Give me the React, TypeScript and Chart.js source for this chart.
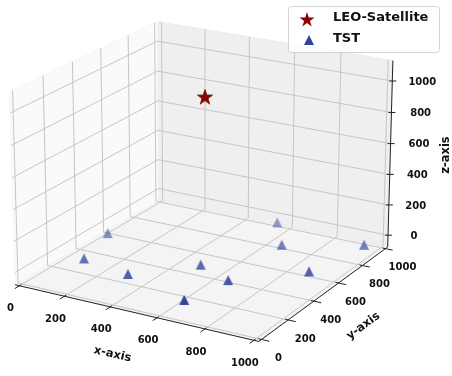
import React, { useEffect, useRef } from "react";
import { Chart, registerables } from "chart.js";

Chart.register(...registerables);

// ---------------- data ----------------
const satelliteLabel = "LEO-Satellite";
const satelliteX = [500];
const satelliteY = [500];
const satelliteZ = [1000];

const tstLabel = "TST";
const tstX = [66, 128, 353, 542, 706, 660, 582, 710, 926, 984];
const tstY = [495, 228, 180, 395, 315, 72, 926, 726, 540, 884];
const tstZ = [0, 0, 0, 0, 0, 0, 0, 0, 0, 0];

const xTickValues = [0, 200, 400, 600, 800, 1000];
const yTickValues = [0, 200, 400, 600, 800, 1000];
const zTickValues = [0, 200, 400, 600, 800, 1000];
const xTitle = "x-axis";
const yTitle = "y-axis";
const zTitle = "z-axis";

// ---------------- view (3D camera) ----------------
const W = 452;
const H = 376;
const ELEV = 20;
const AZIM = -60;
const DIST = 10;
const SCALE = 2420;
const CX = 205;
const CY = 172;
const XB = [-20, 1020];
const YB = [-20, 1020];
const ZB = [-78, 1130];
const BOX_Z_FACTOR = 0.973;

const boxNorm = Math.hypot(4, 4, 3);
const BOX = [4, 4, 3 * BOX_Z_FACTOR].map((v, i) => (i < 3 ? (v * 1.8294640721620434) / boxNorm : v));
const er = (ELEV * Math.PI) / 180;
const ar = (AZIM * Math.PI) / 180;
const Wv = [Math.cos(er) * Math.cos(ar), Math.cos(er) * Math.sin(ar), Math.sin(er)];
const Uv = [-Math.sin(ar), Math.cos(ar), 0];
const Vv = [-Math.sin(er) * Math.cos(ar), -Math.sin(er) * Math.sin(ar), Math.cos(er)];
const dot = (a: number[], b: number[]) => a[0] * b[0] + a[1] * b[1] + a[2] * b[2];

function proj(x: number, y: number, z: number) {
  const p = [
    ((x - XB[0]) / (XB[1] - XB[0]) - 0.5) * BOX[0],
    ((y - YB[0]) / (YB[1] - YB[0]) - 0.5) * BOX[1],
    ((z - ZB[0]) / (ZB[1] - ZB[0]) - 0.5) * BOX[2],
  ];
  const d = DIST - dot(Wv, p);
  return { x: dot(Uv, p) / d, y: dot(Vv, p) / d, depth: d };
}

const FONT = '"DejaVu Sans", sans-serif';

function starPath(ctx: CanvasRenderingContext2D, cx: number, cy: number, R: number) {
  const r = R * 0.382;
  ctx.beginPath();
  for (let i = 0; i < 10; i++) {
    const ang = -Math.PI / 2 + (i * Math.PI) / 5;
    const rad = i % 2 === 0 ? R : r;
    const px = cx + rad * Math.cos(ang);
    const py = cy + rad * Math.sin(ang);
    if (i === 0) ctx.moveTo(px, py);
    else ctx.lineTo(px, py);
  }
  ctx.closePath();
}

function makeStar(R: number, fill: string, stroke: string) {
  const c = document.createElement("canvas");
  const s = Math.ceil(R * 2 + 4);
  c.width = s;
  c.height = s;
  const ctx = c.getContext("2d")!;
  starPath(ctx, s / 2, s / 2 + R * 0.1, R);
  ctx.fillStyle = fill;
  ctx.fill();
  ctx.strokeStyle = stroke;
  ctx.lineWidth = 0.8;
  ctx.stroke();
  return c;
}

function triPath(ctx: CanvasRenderingContext2D, cx: number, cy: number, h: number) {
  ctx.beginPath();
  ctx.moveTo(cx, cy - h);
  ctx.lineTo(cx - h, cy + h);
  ctx.lineTo(cx + h, cy + h);
  ctx.closePath();
}

function makeTri(h: number, fill: string) {
  const c = document.createElement("canvas");
  const s = Math.ceil(h * 2 + 2);
  c.width = s;
  c.height = s;
  const ctx = c.getContext("2d")!;
  triPath(ctx, s / 2, s / 2, h);
  ctx.fillStyle = fill;
  ctx.fill();
  return c;
}

const TRI_RGB = [48, 66, 160];

const scene3dPlugin = {
  id: "scene3d",
  beforeDatasetsDraw(chart: any) {
    const ctx: CanvasRenderingContext2D = chart.ctx;
    const sx = chart.scales.x;
    const sy = chart.scales.y;
    const P = (x: number, y: number, z: number) => {
      const q = proj(x, y, z);
      return [sx.getPixelForValue(q.x), sy.getPixelForValue(q.y)];
    };
    const poly = (pts: number[][], fill: string, stroke: string) => {
      ctx.beginPath();
      pts.forEach((p, i) => (i ? ctx.lineTo(p[0], p[1]) : ctx.moveTo(p[0], p[1])));
      ctx.closePath();
      ctx.fillStyle = fill;
      ctx.fill();
      ctx.strokeStyle = stroke;
      ctx.lineWidth = 0.8;
      ctx.stroke();
    };
    const line = (a: number[], b: number[], color: string, lw: number) => {
      ctx.beginPath();
      ctx.moveTo(a[0], a[1]);
      ctx.lineTo(b[0], b[1]);
      ctx.strokeStyle = color;
      ctx.lineWidth = lw;
      ctx.stroke();
    };
    ctx.save();
    const [x0, x1] = XB;
    const [y0, y1] = YB;
    const [z0, z1] = ZB;
    // panes
    poly([P(x0, y0, z0), P(x1, y0, z0), P(x1, y1, z0), P(x0, y1, z0)], "#f4f4f4", "#ececec");
    poly([P(x0, y1, z0), P(x1, y1, z0), P(x1, y1, z1), P(x0, y1, z1)], "#efefef", "#ececec");
    poly([P(x0, y0, z0), P(x0, y1, z0), P(x0, y1, z1), P(x0, y0, z1)], "#fafafa", "#f4f4f4");
    // grid
    const gc = "#c6c6c6";
    const gw = 1;
    xTickValues.forEach((x) => {
      line(P(x, y0, z0), P(x, y1, z0), gc, gw);
      line(P(x, y1, z0), P(x, y1, z1), gc, gw);
    });
    yTickValues.forEach((y) => {
      line(P(x0, y, z0), P(x1, y, z0), gc, gw);
      line(P(x0, y, z0), P(x0, y, z1), gc, gw);
    });
    zTickValues.forEach((z) => {
      line(P(x0, y1, z), P(x1, y1, z), gc, gw);
      line(P(x0, y0, z), P(x0, y1, z), gc, gw);
    });
    // axes lines
    const ac = "#222222";
    line(P(x0, y0, z0), P(x1, y0, z0), ac, 1);
    line(P(x1, y0, z0), P(x1, y1, z0), ac, 1);
    line(P(x1, y1, z0), P(x1, y1, z1), ac, 1);
    // tick marks
    const ry = y1 - y0;
    const rx = x1 - x0;
    xTickValues.forEach((x) => line(P(x, y0 - 0.03 * ry, z0), P(x, y0 + 0.012 * ry, z0), ac, 1));
    yTickValues.forEach((y) => line(P(x1 + 0.03 * rx, y, z0), P(x1 - 0.012 * rx, y, z0), ac, 1));
    zTickValues.forEach((z) => {
      const p = P(x1, y1, z);
      line([p[0] - 3, p[1]], [p[0] + 4, p[1]], ac, 1);
    });
    ctx.restore();
  },
  afterDatasetsDraw(chart: any) {
    const ctx: CanvasRenderingContext2D = chart.ctx;
    const sx = chart.scales.x;
    const sy = chart.scales.y;
    const P = (x: number, y: number, z: number) => {
      const q = proj(x, y, z);
      return [sx.getPixelForValue(q.x), sy.getPixelForValue(q.y)];
    };
    const [x0, x1] = XB;
    const [y0, y1] = YB;
    const [z0] = ZB;
    ctx.save();
    ctx.fillStyle = "#111111";
    ctx.textAlign = "center";
    ctx.textBaseline = "middle";
    ctx.font = `bold 10px ${FONT}`;
    xTickValues.forEach((x) => {
      const p = P(x, y0, z0);
      ctx.fillText(String(x), p[0] - 9, p[1] + 23);
    });
    yTickValues.forEach((y) => {
      const p = P(x1, y, z0);
      ctx.fillText(String(y), p[0] + 17, p[1] + 19);
    });
    zTickValues.forEach((z) => {
      const p = P(x1, y1, z);
      ctx.fillText(String(z), p[0] + 26 + (z / 1000) * 4, p[1] + 1);
    });
    // axis titles
    ctx.font = `bold 11.5px ${FONT}`;
    const rotText = (t: string, x: number, y: number, ang: number) => {
      ctx.save();
      ctx.translate(x, y);
      ctx.rotate(ang);
      ctx.fillText(t, 0, 0);
      ctx.restore();
    };
    {
      const a = P(x0, y0, z0);
      const b = P(x1, y0, z0);
      const m = P(500, y0, z0);
      rotText(xTitle, m[0] - 21, m[1] + 42, Math.atan2(b[1] - a[1], b[0] - a[0]));
    }
    {
      const a = P(x1, y0, z0);
      const b = P(x1, y1, z0);
      const m = P(x1, 500, z0);
      rotText(yTitle, m[0] + 37, m[1] + 34, Math.atan2(b[1] - a[1], b[0] - a[0]));
    }
    {
      const m = P(x1, y1, 500);
      rotText(zTitle, m[0] + 56, m[1] - 4, -Math.PI / 2);
    }
    // legend
    const lx0 = 288, ly0 = 6, lx1 = 439, ly1 = 52;
    ctx.beginPath();
    ctx.roundRect(lx0 + 0.5, ly0 + 0.5, lx1 - lx0, ly1 - ly0, 3);
    ctx.fillStyle = "rgba(255,255,255,0.85)";
    ctx.fill();
    ctx.strokeStyle = "#d4d4d4";
    ctx.lineWidth = 1;
    ctx.stroke();
    const ds = chart.data.datasets;
    starPath(ctx, 307, 20, 8);
    ctx.fillStyle = "#8b0000";
    ctx.fill();
    triPath(ctx, 309, 40, 5);
    ctx.fillStyle = `rgb(${TRI_RGB.join(",")})`;
    ctx.fill();
    ctx.fillStyle = "#111111";
    ctx.textAlign = "left";
    ctx.font = `bold 13px ${FONT}`;
    ctx.fillText(ds[0].label, 333, 18);
    ctx.fillText(ds[1].label, 333, 39);
    ctx.restore();
  },
};

export default function App() {
  const ref = useRef<HTMLCanvasElement>(null);
  useEffect(() => {
    document.body.style.margin = "0";
    const satPts = satelliteX.map((x, i) => proj(x, satelliteY[i], satelliteZ[i]));
    const tstPts = tstX.map((x, i) => proj(x, tstY[i], tstZ[i]));
    const depths = tstPts.map((p) => p.depth);
    const dmin = Math.min(...depths);
    const dmax = Math.max(...depths);
    const order = tstPts.map((_, i) => i).sort((a, b) => tstPts[b].depth - tstPts[a].depth);
    const tstData = order.map((i) => ({ x: tstPts[i].x, y: tstPts[i].y }));
    const tstImgs = order.map((i) => {
      const alpha = 1 - (0.5 * (tstPts[i].depth - dmin)) / (dmax - dmin || 1);
      return makeTri(5, `rgba(${TRI_RGB.join(",")},${alpha.toFixed(3)})`);
    });
    const starImg = makeStar(8, "#8b0000", "#6a0000");

    const chart = new Chart(ref.current!, {
      type: "scatter",
      data: {
        datasets: [
          {
            label: satelliteLabel,
            data: satPts.map((p) => ({ x: p.x, y: p.y })),
            pointStyle: starImg as any,
            pointRadius: 8,
          },
          {
            label: tstLabel,
            data: tstData,
            pointStyle: tstImgs as any,
            pointRadius: 5,
          },
        ],
      },
      options: {
        animation: false,
        responsive: false,
        maintainAspectRatio: false,
        events: [],
        layout: { padding: 0, autoPadding: false },
        plugins: { legend: { display: false }, tooltip: { enabled: false } },
        scales: {
          x: { type: "linear", display: false, min: -CX / SCALE, max: (W - CX) / SCALE },
          y: { type: "linear", display: false, min: (CY - H) / SCALE, max: CY / SCALE },
        },
      },
      plugins: [scene3dPlugin],
    });
    return () => chart.destroy();
  }, []);
  return (
    <div style={{ width: W, height: H }}>
      <canvas ref={ref} width={W} height={H} style={{ display: "block", width: W, height: H }} />
    </div>
  );
}
